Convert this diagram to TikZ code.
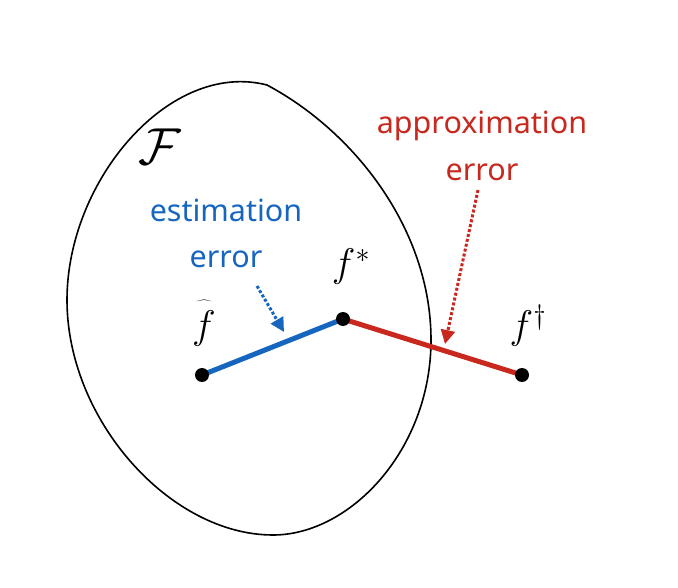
\RequirePackage{fix-cm}
\documentclass[tikz,border=0pt]{standalone}
\usepackage{fontspec}
\setsansfont{Noto Sans}
\usetikzlibrary{arrows.meta}
\definecolor{eblue}{RGB}{22,102,192}
\definecolor{ared}{RGB}{200,40,30}
\tikzset{
  dot/.style={circle,fill=black,inner sep=0pt,minimum size=14pt},
  seg/.style={line width=5pt},
  lab/.style={font=\sffamily\fontsize{30.5}{36}\selectfont,anchor=base,inner sep=0pt},
  mlab/.style={font=\fontsize{40}{48}\selectfont,anchor=base,inner sep=0pt},
  pointer/.style={dotted,line width=3pt,-{Triangle[length=14pt,width=14pt]}}
}
\begin{document}
\begin{tikzpicture}[x=1pt,y=-1pt]
\useasboundingbox (0,0) rectangle (678,588);
\draw[line width=1.6pt] (267,85) .. controls (355,132) and (431,230) .. (431,340)
  .. controls (431,450) and (350,535) .. (273,535)
  .. controls (170,535) and (67,420) .. (67,300)
  .. controls (67,180) and (170,60) .. (267,85) -- cycle;
\coordinate (A) at (202,375);
\coordinate (B) at (343,319);
\coordinate (C) at (522,375);
\draw[seg,eblue] (A) -- (B);
\draw[seg,ared] (B) -- (C);
\node[dot] (fh) at (A) {};
\node[dot] (fs) at (B) {};
\node[dot] (fd) at (C) {};
\node[mlab] (lF) at (160,165) {\fontsize{52}{60}\selectfont$\mathcal{F}$};
\node[mlab] (lfs) at (351,277) {$f^*$};
\node[mlab] (lfh) at (204,339) {$\widehat{\rule{0pt}{0.9em}f}$};
\node[mlab] (lfd) at (528,339) {$f^\dagger$};
\node[lab,text=eblue] (e1) at (226,222) {estimation};
\node[lab,text=eblue] (e2) at (226,268) {error};
\node[lab,text=ared] (a1) at (482,134) {approximation};
\node[lab,text=ared] (a2) at (482,181) {error};
\coordinate (bs) at (257,286);
\coordinate (be) at (284,332);
\coordinate (rs) at (478,190);
\coordinate (re) at (445,344);
\draw[pointer,eblue] (bs) -- (be);
\draw[pointer,ared] (rs) -- (re);
\end{tikzpicture}
\end{document}
